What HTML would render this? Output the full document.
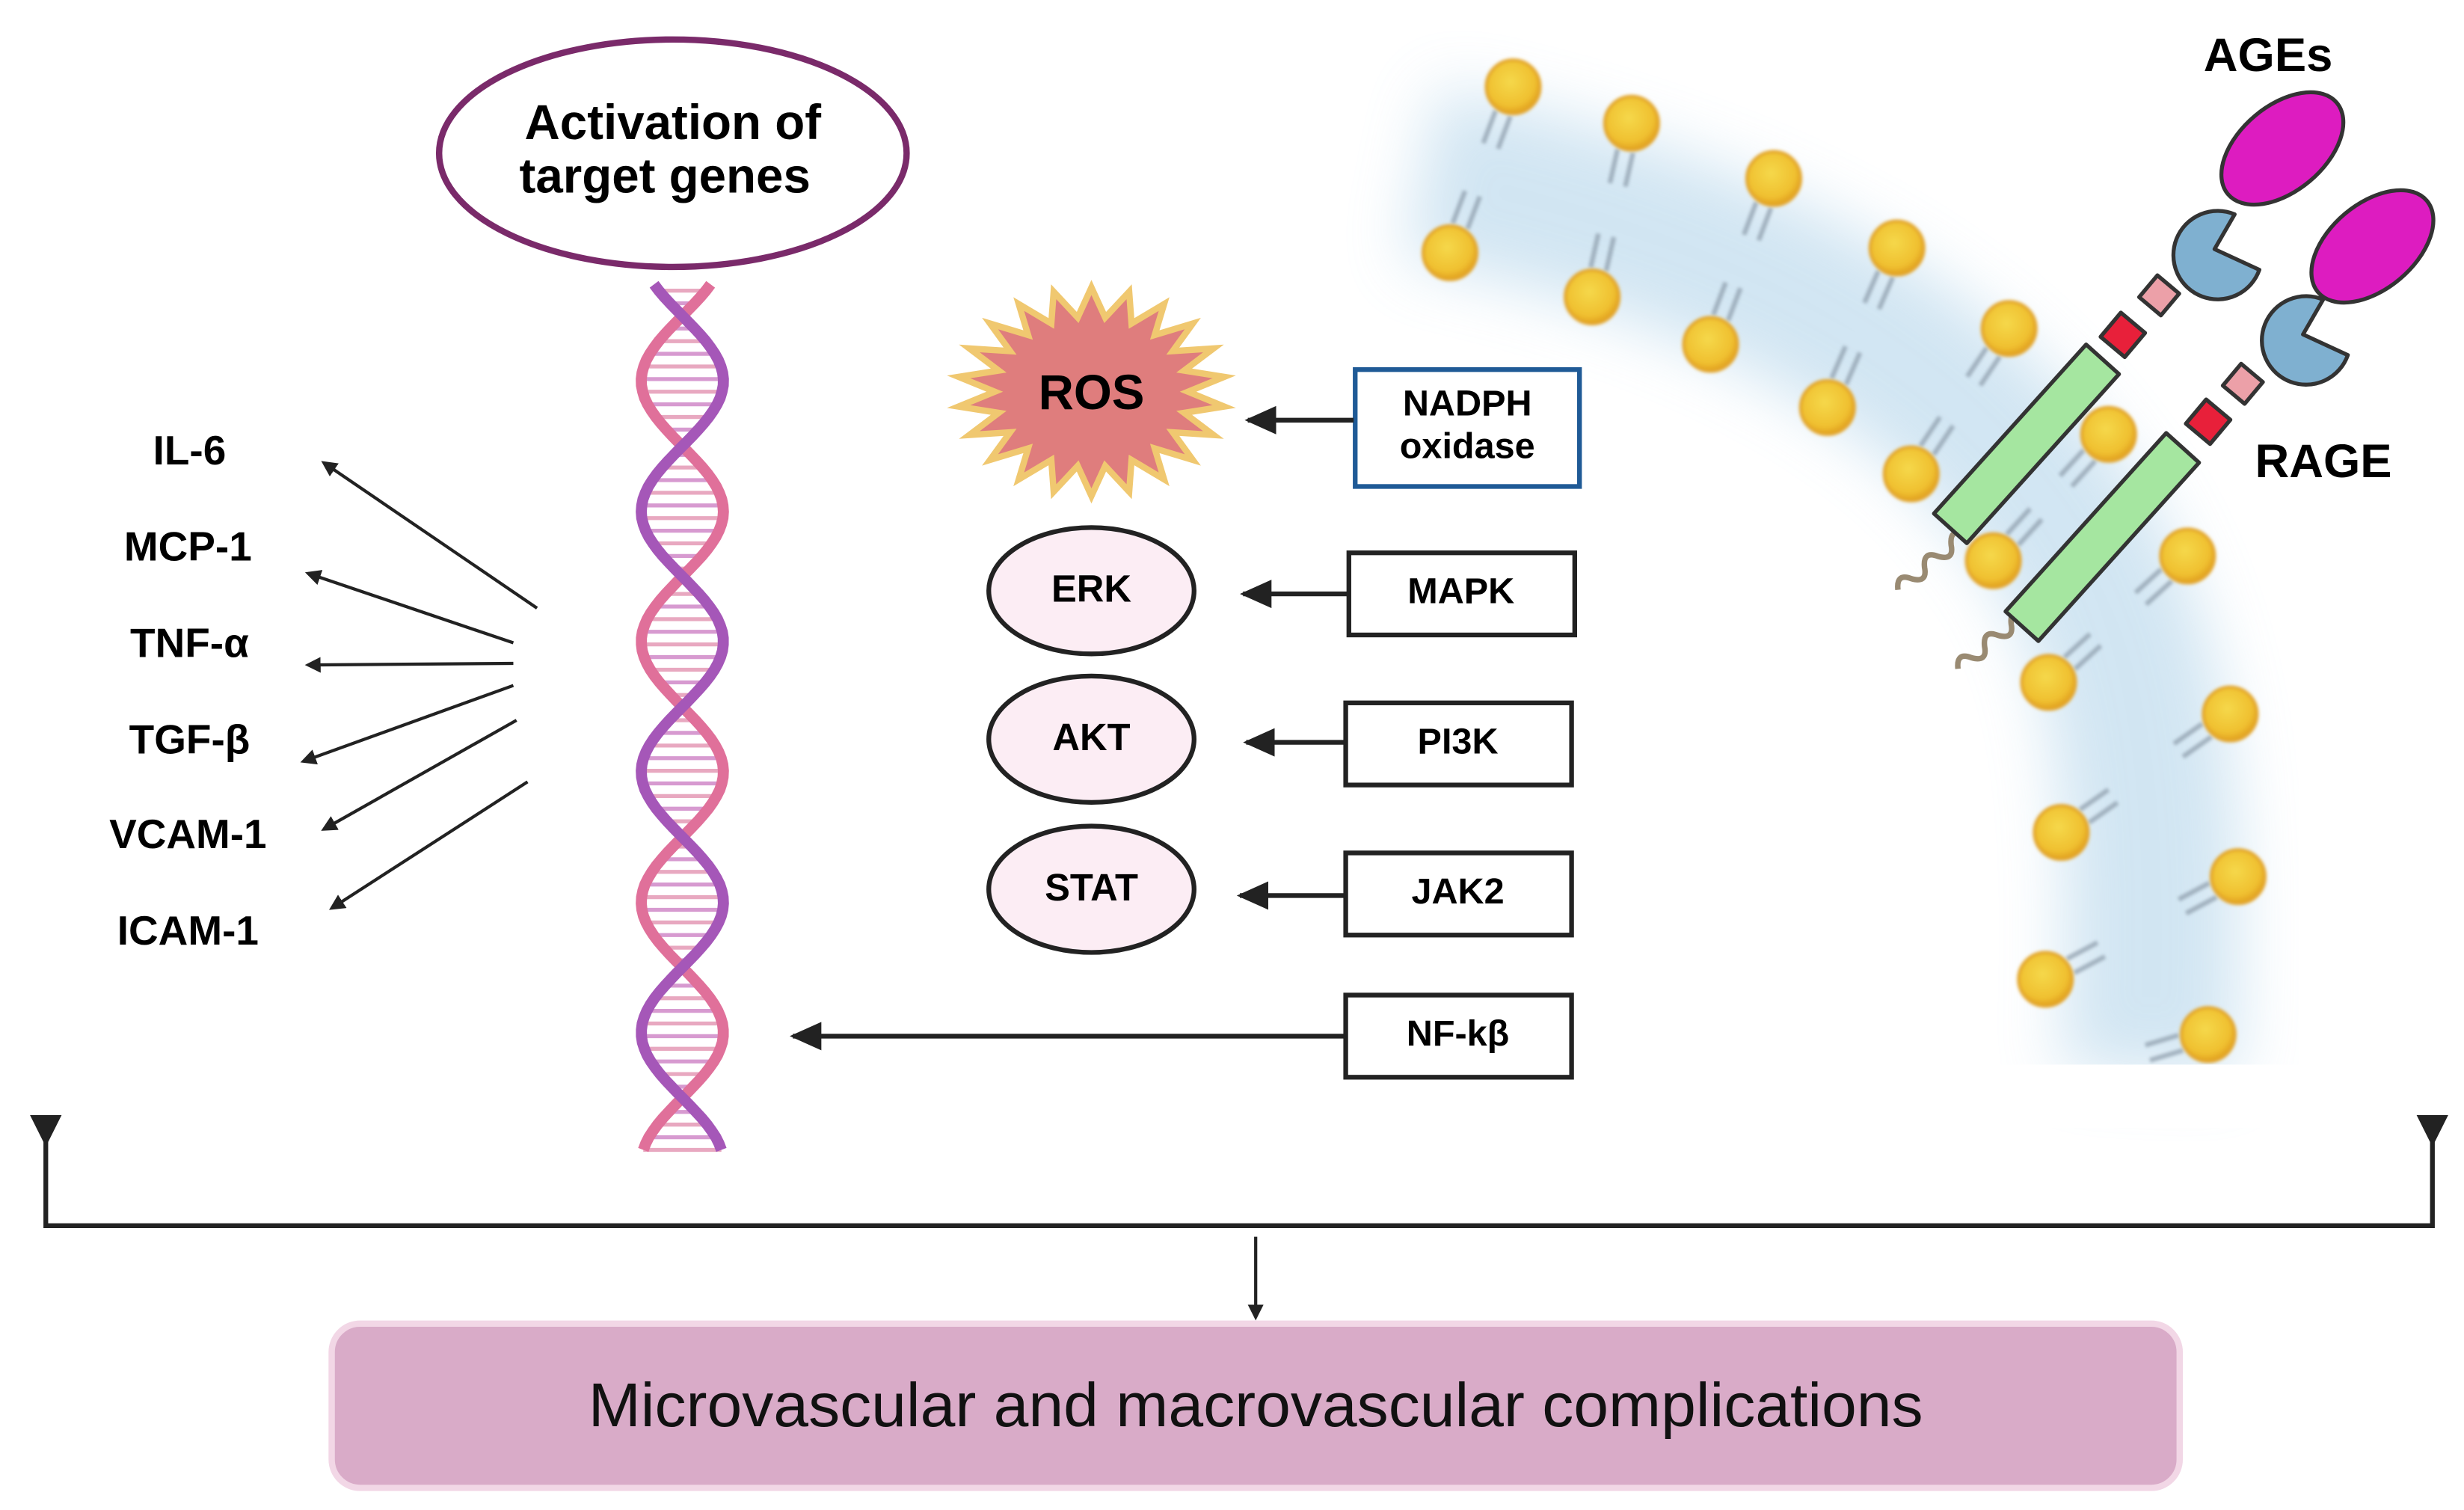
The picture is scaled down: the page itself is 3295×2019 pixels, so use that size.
<!DOCTYPE html>
<html><head><meta charset="utf-8">
<style>
html,body{margin:0;padding:0;background:#fff;}
svg{display:block;}
text{font-family:"Liberation Sans",Arial,sans-serif;}
</style></head>
<body>
<svg id="s" width="3295" height="2019" viewBox="0 0 1560 956" preserveAspectRatio="none" xmlns="http://www.w3.org/2000/svg">
<defs>
<filter id="blur" x="-20%" y="-20%" width="140%" height="140%"><feGaussianBlur stdDeviation="20"/></filter>
<filter id="sb"><feGaussianBlur stdDeviation="1"/></filter>
<radialGradient id="ball" cx="45%" cy="40%" r="60%"><stop offset="0" stop-color="#f5d84a"/><stop offset="0.75" stop-color="#f0c030"/><stop offset="1" stop-color="#e0a020"/></radialGradient>
<marker id="ah" markerWidth="10" markerHeight="10" refX="8" refY="5" orient="auto" markerUnits="userSpaceOnUse"><path d="M0,0 L10,5 L0,10 z" fill="#222"/></marker>
<marker id="ab" markerWidth="22" markerHeight="18" refX="18" refY="9" orient="auto" markerUnits="userSpaceOnUse"><path d="M0,0 L20,9 L0,18 z" fill="#222"/></marker>
</defs>

<!-- membrane -->
<g filter="url(#blur)" opacity="0.4">
<path d="M900,110 C1050,140 1200,200 1280,300 C1350,380 1370,470 1360,680" stroke="#8ec0e0" stroke-width="110" fill="none"/>
</g>
<g stroke="#8a9aa8" stroke-width="3" stroke-dasharray="22,10" opacity="0.7" filter="url(#sb)" id="tails"></g>
<g id="balls"></g>
<rect x="1240" y="674" width="220" height="40" fill="#fff"/>

<!-- RAGE -->
<g stroke="#333" stroke-width="2.5" stroke-linejoin="round">
<path d="M1196,358 q6,-9 11,0 q6,9 11,0 q6,-9 11,0 q6,9 11,0 q6,-9 11,0" fill="none" stroke="#998a72" stroke-width="3.5" transform="rotate(-40 1220 358)"/>
<path d="M1234,408 q6,-9 11,0 q6,9 11,0 q6,-9 11,0 q6,9 11,0 q6,-9 11,0" fill="none" stroke="#998a72" stroke-width="3.5" transform="rotate(-40 1258 408)"/>
<rect x="-14" y="-72" width="28" height="144" fill="#a5e6a0" transform="translate(1283,281) rotate(42)"/>
<rect x="-14" y="-76" width="28" height="152" fill="#a5e6a0" transform="translate(1331,340) rotate(42)"/>
<rect x="-10" y="-10" width="20" height="20" fill="#e8203a" transform="translate(1344,212) rotate(40)"/>
<rect x="-9" y="-9" width="18" height="18" fill="#eca0a8" transform="translate(1367,187) rotate(40)"/>
<rect x="-10" y="-10" width="20" height="20" fill="#e8203a" transform="translate(1398,267) rotate(40)"/>
<rect x="-9" y="-9" width="18" height="18" fill="#eca0a8" transform="translate(1420,243) rotate(40)"/>
<path d="M1418,140 A28,28 0 1 0 1424,178 L1400,158 Z" fill="#7fb0d0" transform="rotate(-15 1400 150)"/>
<path d="M1474,194 A28,28 0 1 0 1480,232 L1456,212 Z" fill="#7fb0d0" transform="rotate(-15 1456 204)"/>
<ellipse cx="1445" cy="94" rx="27" ry="45" fill="#dd1cc0" transform="rotate(50 1445 94)"/>
<ellipse cx="1502" cy="156" rx="27" ry="45" fill="#dd1cc0" transform="rotate(50 1502 156)"/>
</g>
<text x="1436" y="45" font-size="30" font-weight="bold" text-anchor="middle">AGEs</text>
<text x="1471" y="302" font-size="30" font-weight="bold" text-anchor="middle">RAGE</text>

<!-- DNA -->
<g id="dna"></g>

<!-- activation ellipse -->
<ellipse cx="426" cy="97" rx="148" ry="72" fill="#fff" stroke="#7a2a6a" stroke-width="4"/>
<text x="426" y="88" font-size="31" font-weight="bold" text-anchor="middle">Activation of</text>
<text x="421" y="122" font-size="31" font-weight="bold" text-anchor="middle">target genes</text>

<!-- cytokines -->
<g font-size="26" font-weight="bold" text-anchor="middle">
<text x="120" y="294">IL-6</text>
<text x="119" y="355">MCP-1</text>
<text x="120" y="416">TNF-α</text>
<text x="120" y="477">TGF-β</text>
<text x="119" y="537">VCAM-1</text>
<text x="119" y="598">ICAM-1</text>
</g>
<g stroke="#222" stroke-width="2" marker-end="url(#ah)">
<line x1="340" y1="385" x2="205" y2="293"/>
<line x1="325" y1="407" x2="195" y2="363"/>
<line x1="325" y1="420" x2="195" y2="421"/>
<line x1="325" y1="434" x2="192" y2="482"/>
<line x1="327" y1="456" x2="205" y2="525"/>
<line x1="334" y1="495" x2="210" y2="575"/>
</g>

<!-- ROS star -->
<polygon id="star" fill="#df7d7d" stroke="#f0c870" stroke-width="4" stroke-linejoin="miter"/>
<text x="691" y="259" font-size="31" font-weight="bold" text-anchor="middle">ROS</text>

<!-- ellipses -->
<g fill="#fcedf4" stroke="#222" stroke-width="3">
<ellipse cx="691" cy="374" rx="65" ry="40"/>
<ellipse cx="691" cy="468" rx="65" ry="40"/>
<ellipse cx="691" cy="563" rx="65" ry="40"/>
</g>
<g font-size="24" font-weight="bold" text-anchor="middle">
<text x="691" y="381">ERK</text>
<text x="691" y="475">AKT</text>
<text x="691" y="570">STAT</text>
</g>

<!-- boxes -->
<rect x="858" y="234" width="142" height="74" fill="#fff" stroke="#1f5a96" stroke-width="3"/>
<g fill="#fff" stroke="#222" stroke-width="3">
<rect x="854" y="350" width="143" height="52"/>
<rect x="852" y="445" width="143" height="52"/>
<rect x="852" y="540" width="143" height="52"/>
<rect x="852" y="630" width="143" height="52"/>
</g>
<g font-size="23" font-weight="bold" text-anchor="middle">
<text x="929" y="263">NADPH</text>
<text x="929" y="290">oxidase</text>
<text x="925" y="382">MAPK</text>
<text x="923" y="477">PI3K</text>
<text x="923" y="572">JAK2</text>
<text x="923" y="662">NF-kβ</text>
</g>
<g stroke="#222" stroke-width="3" marker-end="url(#ab)">
<line x1="857" y1="266" x2="790" y2="266"/>
<line x1="853" y1="376" x2="787" y2="376"/>
<line x1="851" y1="470" x2="789" y2="470"/>
<line x1="851" y1="567" x2="785" y2="567"/>
<line x1="851" y1="656" x2="502" y2="656"/>
</g>

<!-- bracket -->
<g stroke="#222" stroke-width="3" fill="none">
<polyline points="29,712 29,776 1540,776 1540,712"/>
</g>
<path d="M19,706 L39,706 L29,726 Z" fill="#222"/>
<path d="M1530,706 L1550,706 L1540,726 Z" fill="#222"/>
<line x1="795" y1="783" x2="795" y2="834" stroke="#222" stroke-width="2" marker-end="url(#ah)"/>

<!-- bottom box -->
<rect x="210" y="838" width="1170" height="104" rx="18" fill="#d9abc8" stroke="#f2d7e6" stroke-width="4"/>
<text x="795" y="903" font-size="39" text-anchor="middle" fill="#111" textLength="845" lengthAdjust="spacingAndGlyphs">Microvascular and macrovascular complications</text>
</svg>
<script>
(function(){
var NS="http://www.w3.org/2000/svg";
function el(t,a,p){var e=document.createElementNS(NS,t);for(var k in a)e.setAttribute(k,a[k]);p.appendChild(e);return e;}
var pts=[],n=22,cx=691,cy=248;
for(var i=0;i<n*2;i++){var a=i*Math.PI/n - Math.PI/2;var r=(i%2==0)?1:0.72;pts.push((cx+85*r*Math.cos(a)).toFixed(1)+","+(cy+66*r*Math.sin(a)).toFixed(1));}
document.getElementById("star").setAttribute("points",pts.join(" "));
var g=document.getElementById("dna");
var p1="",p2="",y;
for(y=180;y<=728;y+=4){
 var ph=2*Math.PI*(y-200)/165;
 var x1=432+26*Math.sin(ph), x2=432-26*Math.sin(ph);
 p1+=(y==180?"M":"L")+x1.toFixed(1)+","+y;
 p2+=(y==180?"M":"L")+x2.toFixed(1)+","+y;
 if(y%8==0) el("line",{x1:x1,y1:y,x2:x2,y2:y,stroke:(y%16==0?"#d79ad0":"#e8a8c0"),"stroke-width":2.5},g);
}
el("path",{d:p2,stroke:"#e0709a","stroke-width":7,fill:"none"},g);
el("path",{d:p1,stroke:"#a557b8","stroke-width":7,fill:"none"},g);
var outer=[[958,55],[1033,78],[1123,113],[1201,157],[1272,208],[1335,275],[1385,352],[1412,452],[1417,555],[1398,655]];
var inner=[[918,160],[1008,188],[1083,218],[1157,258],[1210,300],[1262,355],[1297,432],[1305,527],[1295,620]];
var tg=document.getElementById("tails"),bg=document.getElementById("balls");
for(var i=0;i<outer.length;i++){
 var o=outer[i], nx, ny;
 if(i<inner.length){var q=inner[i];nx=(q[0]-o[0]);ny=(q[1]-o[1]);}else{nx=-100;ny=30;}
 var L=Math.sqrt(nx*nx+ny*ny);nx/=L;ny/=L;
 var px=-ny*5,py=nx*5;
 el("line",{x1:o[0]+nx*18+px,y1:o[1]+ny*18+py,x2:o[0]+nx*48+px,y2:o[1]+ny*48+py},tg);
 el("line",{x1:o[0]+nx*18-px,y1:o[1]+ny*18-py,x2:o[0]+nx*48-px,y2:o[1]+ny*48-py},tg);
}
for(var i=0;i<inner.length;i++){
 var q=inner[i],o=outer[i];var nx=o[0]-q[0],ny=o[1]-q[1];var L=Math.sqrt(nx*nx+ny*ny);nx/=L;ny/=L;var px=-ny*5,py=nx*5;
 el("line",{x1:q[0]+nx*18+px,y1:q[1]+ny*18+py,x2:q[0]+nx*48+px,y2:q[1]+ny*48+py},tg);
 el("line",{x1:q[0]+nx*18-px,y1:q[1]+ny*18-py,x2:q[0]+nx*48-px,y2:q[1]+ny*48-py},tg);
}
outer.concat(inner).forEach(function(c){el("circle",{cx:c[0],cy:c[1],r:17,fill:"url(#ball)",stroke:"#e3a52a","stroke-width":2,filter:"url(#sb)"},bg);});
})();
</script>
</body></html>
